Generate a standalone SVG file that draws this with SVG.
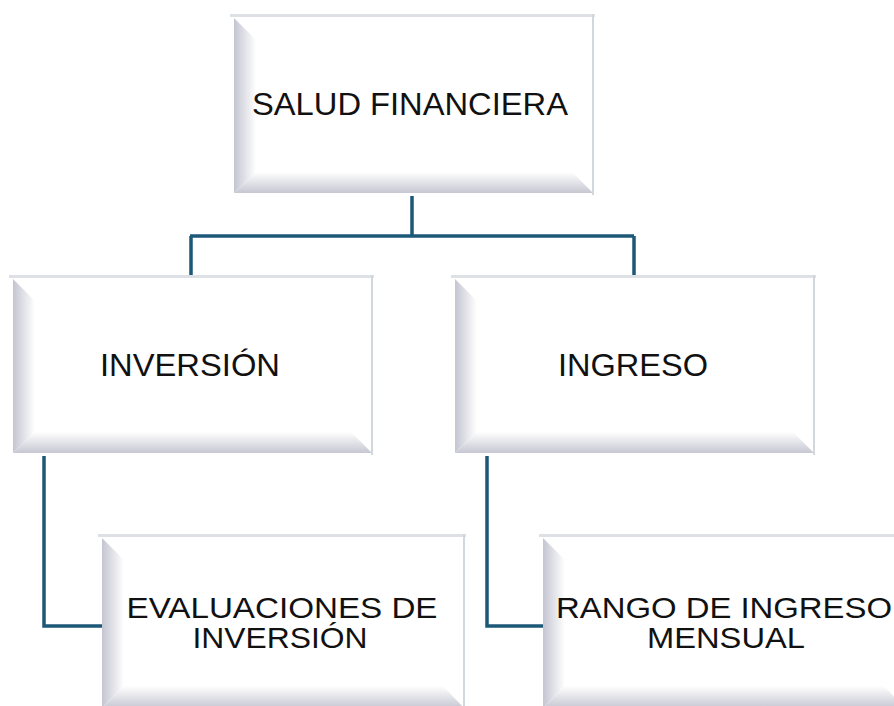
<svg xmlns="http://www.w3.org/2000/svg" width="894" height="706" viewBox="0 0 894 706">
  <defs>
    <linearGradient id="gl" x1="0" y1="0" x2="1" y2="0">
      <stop offset="0" stop-color="#c4c5d1"/>
      <stop offset="1" stop-color="#ffffff"/>
    </linearGradient>
    <linearGradient id="gb" x1="0" y1="0" x2="0" y2="1">
      <stop offset="0" stop-color="#ffffff"/>
      <stop offset="1" stop-color="#c6c7d2"/>
    </linearGradient>
    <style>
      .top { fill: #dde0e4; }
      .face { fill: #ffffff; }
      .lb { fill: url(#gl); }
      .bb { fill: url(#gb); }
      .re { stroke: #d2d7db; stroke-width: 2; fill: none; }
      .lbl { font-family: "Liberation Sans", Arial, sans-serif; font-size: 30px; fill: #111111; text-anchor: middle; }
      .big { font-size: 31px; }
      .conn { stroke: #1c5878; stroke-width: 3.5; fill: none; }
    </style>
  </defs>
  <rect width="894" height="706" fill="#ffffff"/>

  <g id="connectors">
    <path class="conn" d="M412 196 V236 M190 236 H634 M191 236 V275 M634 236 V275"/>
    <path class="conn" d="M44 456 V626 H102"/>
    <path class="conn" d="M487 456 V626 H543"/>
  </g>

  <g id="node-salud">
    <rect class="top" x="230" y="14" width="365" height="3"/>
    <rect class="face" x="234" y="17" width="360" height="176"/>
    <polygon class="lb" points="234,18 256,40 256,172 234,193"/>
    <polygon class="bb" points="234,193 256,172 572,172 593,193"/>
    <line class="re" x1="593" y1="14" x2="593" y2="195"/>
    <text class="lbl big" x="410" y="115" textLength="316" lengthAdjust="spacingAndGlyphs">SALUD FINANCIERA</text>
  </g>

  <g id="node-inversion">
    <rect class="top" x="9" y="275" width="365" height="3"/>
    <rect class="face" x="13" y="278" width="360" height="175"/>
    <polygon class="lb" points="13,279 35,301 35,432 13,453"/>
    <polygon class="bb" points="13,453 35,432 351,432 372,453"/>
    <line class="re" x1="372" y1="275" x2="372" y2="455"/>
    <text class="lbl big" x="190" y="376" textLength="180" lengthAdjust="spacingAndGlyphs">INVERSIÓN</text>
  </g>

  <g id="node-ingreso">
    <rect class="top" x="451" y="275" width="365" height="3"/>
    <rect class="face" x="455" y="278" width="360" height="175"/>
    <polygon class="lb" points="455,279 477,301 477,432 455,453"/>
    <polygon class="bb" points="455,453 477,432 793,432 814,453"/>
    <line class="re" x1="814" y1="275" x2="814" y2="455"/>
    <text class="lbl big" x="633" y="376" textLength="150" lengthAdjust="spacingAndGlyphs">INGRESO</text>
  </g>

  <g id="node-evaluaciones">
    <rect class="top" x="98" y="534" width="368" height="3"/>
    <rect class="face" x="102" y="537" width="363" height="171"/>
    <polygon class="lb" points="102,538 124,560 124,686 102,708"/>
    <polygon class="bb" points="102,708 124,686 443,686 464,708"/>
    <line class="re" x1="464" y1="534" x2="464" y2="708"/>
    <text class="lbl" x="282" y="618" textLength="311" lengthAdjust="spacingAndGlyphs">EVALUACIONES DE</text>
    <text class="lbl" x="280" y="648" textLength="175" lengthAdjust="spacingAndGlyphs">INVERSIÓN</text>
  </g>

  <g id="node-rango">
    <rect class="top" x="539" y="534" width="368" height="3"/>
    <rect class="face" x="543" y="537" width="363" height="171"/>
    <polygon class="lb" points="543,538 565,560 565,686 543,708"/>
    <polygon class="bb" points="543,708 565,686 884,686 905,708"/>
    <text class="lbl" x="724" y="618" textLength="336" lengthAdjust="spacingAndGlyphs">RANGO DE INGRESO</text>
    <text class="lbl" x="726" y="648" textLength="158" lengthAdjust="spacingAndGlyphs">MENSUAL</text>
  </g>
</svg>
